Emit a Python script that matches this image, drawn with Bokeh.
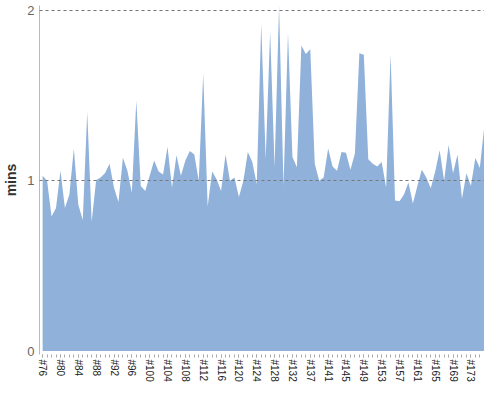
from bokeh.plotting import figure
from bokeh.models import ColumnDataSource, Range1d, FixedTicker, CustomJSTickFormatter
from bokeh.embed import file_html
from bokeh.resources import INLINE

categories = (["#%d" % n for n in range(76, 133)] + ["#133", "#134", "#136"]
              + ["#%d" % n for n in range(137, 177)])

mins = [
    1.03, 1.00, 0.79, 0.84, 1.06, 0.84, 0.92, 1.19, 0.86, 0.77,
    1.405, 0.76, 1.005, 1.02, 1.046, 1.10, 0.96, 0.876, 1.135, 1.06,
    0.93, 1.47, 0.97, 0.94, 1.03, 1.12, 1.055, 1.037, 1.20, 0.96,
    1.15, 1.03, 1.12, 1.175, 1.155, 1.00, 1.63, 0.85, 1.055, 1.01,
    0.94, 1.155, 1.00, 1.02, 0.905, 1.00, 1.17, 1.11, 0.98, 1.925,
    1.13, 1.877, 1.08, 2.03, 0.97, 1.87, 1.14, 1.08, 1.795, 1.745,
    1.773, 1.10, 1.00, 1.02, 1.19, 1.085, 1.06, 1.17, 1.165, 1.065,
    1.16, 1.75, 1.74, 1.127, 1.10, 1.085, 1.11, 0.96, 1.745, 0.885,
    0.88, 0.92, 0.99, 0.867, 0.97, 1.065, 1.02, 0.957, 1.055, 1.18,
    1.00, 1.21, 1.045, 1.155, 0.895, 1.045, 0.97, 1.135, 1.075, 1.32,
]

y_ticks = [0, 1, 2]

idx = list(range(len(categories)))
src = ColumnDataSource(data=dict(x=idx, y=mins, base=[0] * len(mins)))

p = figure(width=484, height=384, output_backend="svg", toolbar_location=None,
           x_range=Range1d(-0.7, len(categories) - 0.95),
           y_range=Range1d(-0.02, 2.03),
           min_border_left=30, min_border_right=0, min_border_top=5,
           min_border_bottom=0)
p.outline_line_color = None
p.background_fill_color = "white"
p.border_fill_color = "white"

p.varea(x="x", y1="base", y2="y", source=src, fill_color="#8FB1DA", fill_alpha=1.0)

font = "Liberation Sans"

ya = p.yaxis[0]
ya.ticker = FixedTicker(ticks=y_ticks, minor_ticks=[])
ya.axis_label = "mins"
ya.axis_label_text_font = font
ya.axis_label_text_font_size = "14px"
ya.axis_label_text_font_style = "bold"
ya.axis_label_text_color = "#333333"
ya.axis_label_standoff = 5
ya.major_label_text_font = font
ya.major_label_text_font_size = "13px"
ya.major_label_text_color = "#666666"
ya.major_label_standoff = 5
ya.axis_line_color = "#bbbbbb"
ya.major_tick_out = 0
ya.major_tick_in = 0
ya.minor_tick_out = 0
ya.minor_tick_in = 0

xa = p.xaxis[0]
xa.ticker = FixedTicker(ticks=idx[::4], minor_ticks=idx)
xa.formatter = CustomJSTickFormatter(args=dict(labels=categories),
                                     code="return labels[Math.round(tick)] || '';")
xa.major_label_orientation = "vertical"
xa.major_label_text_font = font
xa.major_label_text_font_size = "10px"
xa.major_label_text_color = "#222222"
xa.major_label_standoff = 2
xa.axis_line_color = None
xa.major_tick_out = 3
xa.major_tick_in = 0
xa.minor_tick_out = 3
xa.minor_tick_in = 0
xa.major_tick_line_color = "#aaaaaa"
xa.minor_tick_line_color = "#aaaaaa"

p.xgrid.visible = False
p.ygrid.ticker = FixedTicker(ticks=[1, 2])
p.ygrid.grid_line_color = "#777777"
p.ygrid.grid_line_dash = "3 3"
p.ygrid.grid_line_width = 1
p.ygrid.level = "overlay"

open("out.html", "w").write(file_html(p, INLINE))
